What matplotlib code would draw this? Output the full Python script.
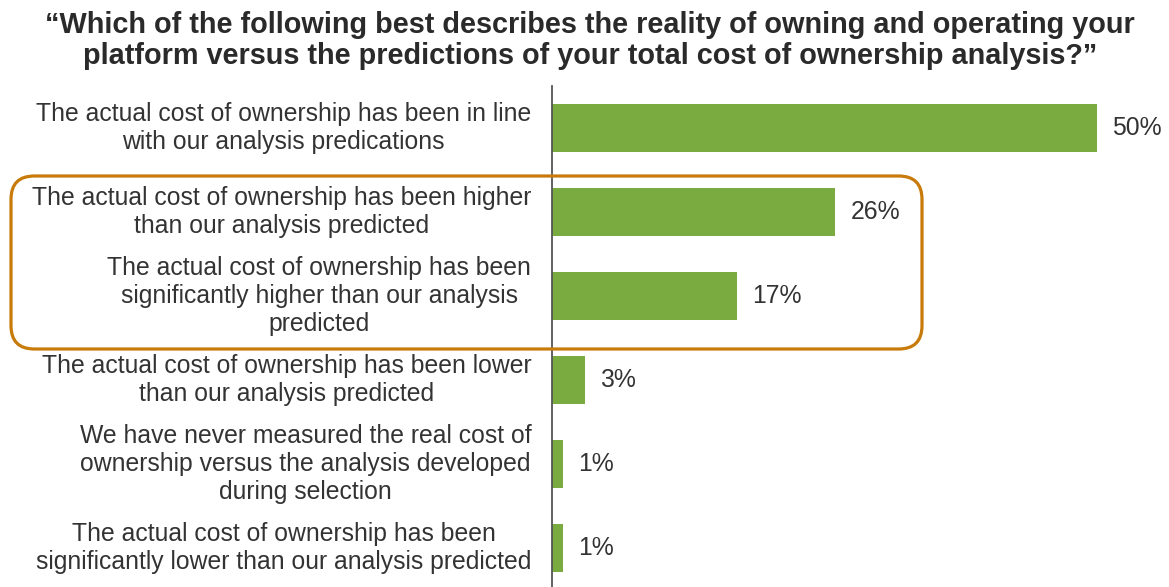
import matplotlib.pyplot as plt
from matplotlib.patches import FancyBboxPatch

plt.rcParams['font.family'] = ['Liberation Sans', 'DejaVu Sans']

title = ("\u201cWhich of the following best describes the reality of owning and operating your\n"
         "platform versus the predictions of your total cost of ownership analysis?\u201d")

labels = [
    "The actual cost of ownership has been in line\nwith our analysis predications",
    "The actual cost of ownership has been higher\nthan our analysis predicted",
    "The actual cost of ownership has been\nsignificantly higher than our analysis\npredicted",
    "The actual cost of ownership has been lower\nthan our analysis predicted",
    "We have never measured the real cost of\nownership versus the analysis developed\nduring selection",
    "The actual cost of ownership has been\nsignificantly lower than our analysis predicted",
]
values = [50, 26, 17, 3, 1, 1]

W, H = 1169, 587
fig = plt.figure(figsize=(W / 100, H / 100), dpi=100)
ax = fig.add_axes([552 / W, -3 / H, 610 / W, 504 / H])

y = range(len(values))
ax.barh(y, values, height=0.56, color='#7aab41', zorder=2)
ax.set_xlim(0, 56)
ax.set_ylim(len(values) - 0.5, -0.5)

for i, v in enumerate(values):
    ax.text(v + 1.4, i, f"{v}%", va='center', ha='left', fontsize=17.8, color='#333333')
    ax.text(-1.9, i, labels[i], va='center', ha='right', multialignment='center',
            fontsize=17.8, color='#333333', linespacing=1.2)

for s in ['top', 'right', 'bottom']:
    ax.spines[s].set_visible(False)
ax.spines['left'].set_color('#555555')
ax.spines['left'].set_linewidth(1.3)
ax.set_xticks([])
ax.set_yticks([])
ax.patch.set_alpha(0)

fig.text(0.505, 1 - 40.5 / H, title, ha='center', va='center', fontsize=20.8,
         fontweight='bold', color='#2a2a2a', linespacing=1.18)

# highlight box around the "higher" answers
box = FancyBboxPatch((11 / W, 1 - 349 / H), 911 / W, 173 / H,
                     boxstyle='round,pad=0,rounding_size=0.02',
                     transform=fig.transFigure, fill=False,
                     edgecolor='#c87a0a', linewidth=2.3, mutation_aspect=W / H)
fig.patches.append(box)

fig.savefig('out.png', dpi=100)
